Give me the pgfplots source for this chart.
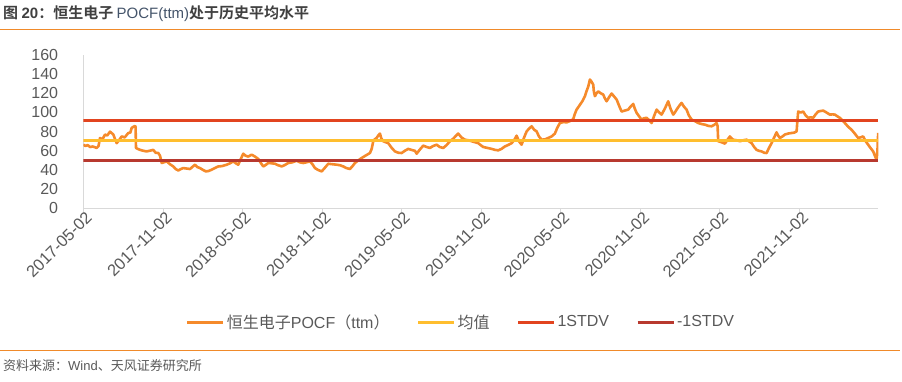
\documentclass[border=0pt]{standalone}
\usepackage{fontspec}
\setmainfont{Liberation Sans}
\newfontfamily\cjk{Noto Sans CJK SC}[BoldFont=Noto Sans CJK SC Bold]
\usepackage{pgfplots}
\pgfplotsset{compat=1.18}
\definecolor{seriesorange}{HTML}{F58A2B}
\definecolor{meanyellow}{HTML}{FFBE2E}
\definecolor{stdred}{HTML}{E2441F}
\definecolor{stddark}{HTML}{B8392F}
\definecolor{tforange}{HTML}{F08A2A}
\definecolor{tickgray}{HTML}{595959}
\definecolor{axisgray}{HTML}{D9D9D9}
\definecolor{titlegray}{HTML}{404040}
\definecolor{titleblue}{HTML}{44546A}
\begin{document}
\begin{tikzpicture}[x=1pt,y=1pt]
\path[use as bounding box] (0,0) rectangle (902,381);
\draw[tforange, line width=1.2pt] (0,351.7) -- (900,351.7);
\draw[tforange, line width=1.2pt] (0,30.7) -- (900,30.7);
\node[anchor=west, inner sep=0pt, text=titlegray, font=\fontsize{15}{17}\selectfont] at (3,367)
  {{\cjk\bfseries 图 }{\bfseries 20}{\cjk\bfseries ：恒生电子 }{\color{titleblue}POCF(ttm)}{\cjk\bfseries 处于历史平均水平}};
\node[anchor=west, inner sep=0pt, text=tickgray, font=\fontsize{13}{15}\selectfont] at (3,15)
  {{\cjk 资料来源：}Wind{\cjk 、天风证券研究所}};
\begin{axis}[
  at={(83.3pt,172.7pt)}, anchor=south west,
  scale only axis, width=795pt, height=153.3pt,
  xmin=0, xmax=1825, ymin=0, ymax=160,
  axis x line*=bottom, axis y line*=left,
  axis line style={-, draw=axisgray, line width=1.3pt},
  ytick={0,20,...,160},
  ytick style={draw=none},
  xtick={0,184,365,549,730,914,1096,1280,1461,1645},
  xticklabels={2017-05-02,2017-11-02,2018-05-02,2018-11-02,2019-05-02,2019-11-02,2020-05-02,2020-11-02,2021-05-02,2021-11-02},
  tick align=outside, major tick length=5pt,
  xtick style={draw=axisgray, line width=1pt},
  /pgf/number format/assume math mode=true,
  yticklabel style={font=\fontsize{16}{18}\selectfont, text=tickgray, anchor=east, inner xsep=0pt, xshift=-20pt},
  xticklabel style={font=\fontsize{16.5}{18}\selectfont, text=tickgray, rotate=45, anchor=east, inner sep=0pt, xshift=3pt, yshift=-5pt},
  legend style={at={(0.475,-0.742)}, anchor=center, draw=none, fill=none,
    font=\fontsize{16}{18}\selectfont, text=tickgray,
    /tikz/every even column/.append style={column sep=25pt}},
  legend columns=4,
  legend image code/.code={\draw[#1, line width=3pt] (0pt,0pt) -- (36pt,0pt);},
]
\addplot[seriesorange, line width=2.6pt, line join=round] coordinates {
(0,66.4) (5,65) (10,66) (15.4,64) (22,64.5) (30.8,63) (35,65) (38.3,73.4) (44,72) (49.8,77) (55,76) (61.3,80) (68.9,77) (73,72) (76.7,68)
(82,71) (88.1,75) (95,74) (103.3,78.6) (108,79) (111.1,84) (118.7,86) (120,85) (121,63) (125,62) (130.2,61) (138,60) (145.5,59.4)
(152,60) (160.7,61) (166,58) (172.1,57.7) (176,55) (180,47.3) (185,48) (191.4,49) (199,46) (206.6,43.7) (212,41) (218,39.5) (224,41)
(229.5,42) (237,41.5) (244.9,41) (250,43) (256.4,45.5) (262,43) (267.8,42) (275,40) (281.6,38.5) (288,39) (294.7,40.3) (302,42)
(309.9,43.7) (318,44) (329.1,45.5) (337,47) (344.3,49) (350,47) (355.8,45.5) (360,50) (367.2,57) (372,55) (378.7,54) (386.5,56)
(394,54) (401.7,51.5) (408,47) (413.1,43.7) (418,45) (424.6,47.3) (432,47) (440,46.5) (447,45) (455.4,43.7) (462,45) (470.5,47.3)
(480,48) (489.8,49.7) (497,48) (504.9,47.3) (512,48) (520.3,49) (526,46) (531.8,42) (539,40) (547.2,38.5) (554,42) (562.3,46.5)
(572,46) (581.6,45.5) (589,45) (596.7,43.7) (604,42) (612.1,41) (618,44) (623.6,47.3) (631,50) (639,52.5) (648,55) (658,57.7)
(662,62) (665.6,70) (669,72) (673.4,73.4) (677,76) (681,78) (684,73) (688.6,70) (694,69) (700,68) (708,63) (715.4,59.4) (723,58)
(730.8,57.7) (738,60) (745.9,62) (753,61) (761.3,60) (765.2,57) (772,61) (780.4,65.4) (788,64) (795.7,63) (803,65) (811.1,66.4)
(818,64) (826.3,63) (834,66) (841.7,70) (850,73) (856,76) (860.7,78) (868,74) (876.1,71.6) (884,71) (891.5,70) (899,69) (906.6,68)
(912,66) (918.1,64) (928,63) (937.4,62) (945,61) (952.5,60.5) (960,62) (967.9,64.6) (975,66) (983.3,68) (989,71) (994.7,75.8)
(1000,70) (1006.2,66.4) (1012,74) (1017.7,80.3) (1023,83) (1029.2,85.6) (1035,82) (1040.6,80.3) (1046,75) (1052.1,71.6) (1060,72)
(1067.3,73.4) (1075,75) (1082.6,78) (1088,84) (1094.1,89) (1102,90) (1109.5,89.7) (1117,91) (1124.6,93) (1128,98) (1132.4,103)
(1140,108) (1146,112) (1151.5,117) (1155,122) (1159.1,127) (1163,134.4) (1167,132) (1170.6,129) (1172,122) (1174.5,117)
(1178,120) (1182.1,122) (1188,120) (1193.6,118.7) (1197,115) (1201.3,111.7) (1207,116) (1212.8,119.8) (1218,117) (1224.3,113.5)
(1230,107) (1235.7,101) (1243,102) (1250.9,103) (1256,106) (1262.4,109) (1266,104) (1270.2,99.6) (1276,96) (1281.6,92.6)
(1287,94) (1293.1,94.4) (1299,92) (1304.6,89) (1310,96) (1316.1,103) (1322,100) (1327.5,97.8) (1335,104) (1342.7,111.7)
(1348,104) (1354.2,97.8) (1358,100) (1362,103) (1368,107) (1373.4,110) (1379,106) (1384.9,103) (1390,97) (1396.4,92.6)
(1404,91) (1411.6,89) (1419,88) (1427,87.3) (1435,86) (1442.3,85.6) (1448,87) (1453.8,89) (1456,86) (1457.5,70) (1465,69)
(1472.8,67.5) (1478,71) (1484.3,75) (1488,73) (1491.9,71.6) (1500,71) (1507.3,70) (1515,71) (1522.7,71.6) (1528,70) (1534.2,68)
(1540,64) (1545.6,61) (1551,60) (1557.1,59.4) (1563,58) (1568.6,57.7) (1574,63) (1580,68) (1586,74) (1591.5,79.3) (1595,76)
(1599.1,73.4) (1605,75) (1610.6,77) (1618,78) (1626,78.6) (1632,79) (1637.5,80.3) (1639,90) (1641.1,101) (1647,100) (1652.6,101)
(1658,97) (1664.1,94.4) (1670,95) (1675.5,94.4) (1681,98) (1687,101) (1692,101.5) (1698.5,102) (1706,100) (1713.8,97.8)
(1720,98) (1725.3,97.8) (1731,96) (1736.8,94.4) (1742,92) (1748.3,89) (1756,85) (1763.6,82) (1771,78) (1778.8,73.4)
(1784,74) (1790.3,75) (1796,70) (1801.7,66.4) (1807,63) (1813.2,59.4) (1817,55) (1821,50.7) (1823,60) (1824.7,78.6)
};
\addlegendentry{{\cjk 恒生电子}POCF{\cjk （}ttm{\cjk ）}}
\addplot[meanyellow, line width=3pt] coordinates {(0,70.6) (1825,70.6)};
\addlegendentry{{\cjk 均值}}
\addplot[stdred, line width=3pt] coordinates {(0,91.4) (1825,91.4)};
\addlegendentry{1STDV}
\addplot[stddark, line width=3pt] coordinates {(0,49.8) (1825,49.8)};
\addlegendentry{-1STDV}
\end{axis}
\end{tikzpicture}
\end{document}
